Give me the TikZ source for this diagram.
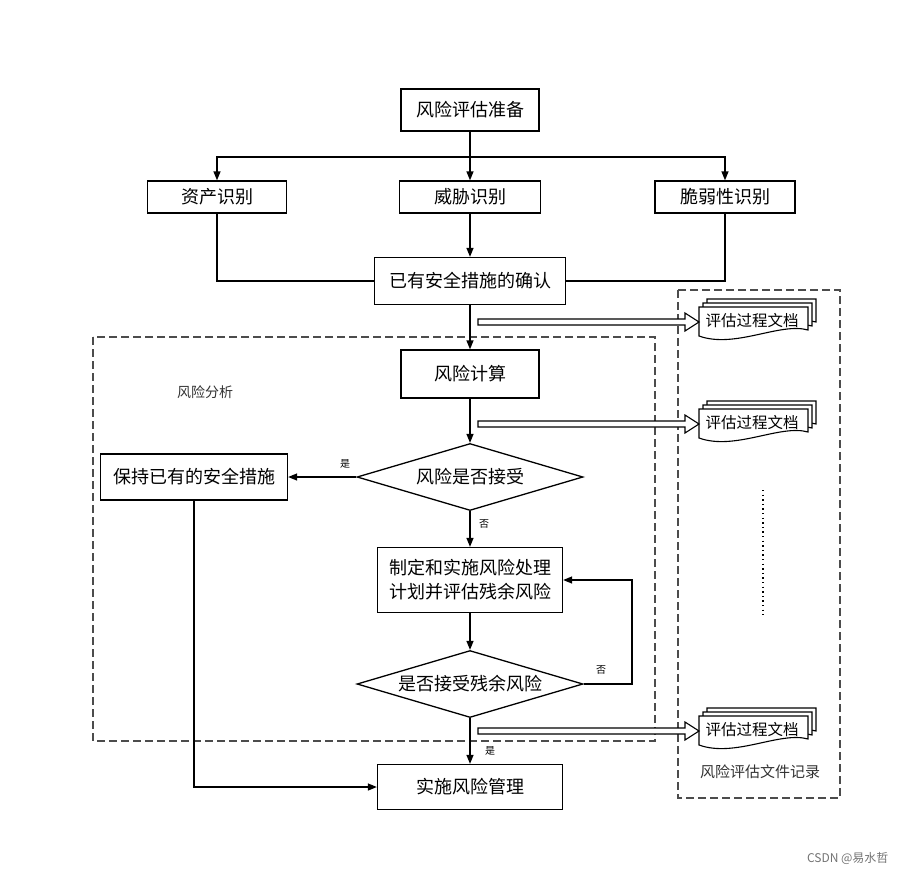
\documentclass[tikz,border=0pt]{standalone}
\usepackage{fontspec}
\setmainfont{Liberation Serif}
\newfontfamily\cjk{Noto Sans CJK SC}
\usetikzlibrary{shapes.geometric,arrows.meta,calc}
\tikzset{
  box/.style={draw, line width=1.3pt, inner sep=0pt, align=center, font=\cjk\fontsize{18}{24}\selectfont},
  dia/.style={diamond, draw, line width=1.3pt, inner sep=0pt, shape aspect=3.4, minimum width=226pt, minimum height=67pt, font=\cjk\fontsize{18}{21}\selectfont},
  line/.style={line width=1.3pt},
  arr/.style={line width=1.3pt, -{Triangle[length=9pt,width=7pt]}},
  lbl/.style={font=\cjk\fontsize{10}{12}\selectfont, inner sep=0pt},
  doctext/.style={font=\cjk\fontsize{15.5}{18}\selectfont, inner sep=0pt},
  dashbox/.style={draw=black!70, line width=1.3pt, dash pattern=on 8pt off 4pt},
  docshape/.style={draw, line width=1.1pt, fill=white},
  hollow/.style={draw, line width=1.1pt, fill=white}
}
\newcommand\docstack[3]{%
  \foreach \o in {8,4,0}{%
    \draw[docshape] (#2-53+\o,#3-14-\o) -- (#2+56+\o,#3-14-\o) -- (#2+56+\o,#3+9-\o)
      .. controls (#2+28+\o,#3+1-\o) and (#2-17+\o,#3+28-\o) .. (#2-53+\o,#3+15-\o) -- cycle;}%
  \node[doctext] (#1) at (#2,#3) {评估过程文档};}
\newcommand\hollowarrow[2]{%
  \path let \p1=(#1), \p2=(#2) in
    node[coordinate] {}
    [hollow] (\x1,\y1+3pt) -- (\x2-14pt,\y1+3pt) -- (\x2-14pt,\y1+9pt) -- (\x2,\y1)
      -- (\x2-14pt,\y1-9pt) -- (\x2-14pt,\y1-3pt) -- (\x1,\y1-3pt) -- cycle;}
\begin{document}
\begin{tikzpicture}[x=1pt,y=-1pt]
\useasboundingbox (0,0) rectangle (905,876);
% dashed frames
\draw[dashbox] (93,337) rectangle (655,741);
\draw[dashbox] (678,290) rectangle (840,798);
\node[font=\cjk\fontsize{14}{16}\selectfont, text=black!80] (ra) at (205,392) {风险分析};
\node[font=\cjk\fontsize{15}{18}\selectfont, text=black!80] (rec) at (760,772) {风险评估文件记录};
% main nodes
\node[box, minimum width=138pt, minimum height=42pt] (prep) at (470,110) {风险评估准备};
\node[box, minimum width=139pt, minimum height=32pt] (asset) at (217,197) {资产识别};
\node[box, minimum width=141pt, minimum height=32pt] (threat) at (470,197) {威胁识别};
\node[box, minimum width=140pt, minimum height=32pt] (vuln) at (725,197) {脆弱性识别};
\node[box, minimum width=191pt, minimum height=47pt] (confirm) at (470,281) {已有安全措施的确认};
\node[box, minimum width=138pt, minimum height=48pt] (calc) at (470,374) {风险计算};
\node[dia] (d1) at (470,477) {风险是否接受};
\node[box, minimum width=187pt, minimum height=46pt] (keep) at (194,477) {保持已有的安全措施};
\node[box, minimum width=185pt, minimum height=65pt] (plan) at (470,580) {制定和实施风险处理\\计划并评估残余风险};
\node[dia] (d2) at (470,684) {是否接受残余风险};
\node[box, minimum width=185pt, minimum height=45pt] (impl) at (470,787) {实施风险管理};
% connectors
\coordinate (split) at (470,157);
\draw[line] (prep.south) -- (split);
\draw[arr] (split) -| (asset.north);
\draw[arr] (split) -- (threat.north);
\draw[arr] (split) -| (vuln.north);
\draw[arr] (threat) -- (confirm);
\draw[line] (asset.south) |- (confirm.west);
\draw[line] (vuln.south) |- (confirm.east);
\draw[arr] (confirm) -- (calc);
\draw[arr] (calc) -- (d1);
\draw[arr] (d1.west) -- (keep.east);
\node[lbl] (yes1) at (345,464) {是};
\draw[arr] (d1.south) -- (plan.north);
\node[lbl] (no1) at (484,524) {否};
\draw[arr] (plan) -- (d2);
\coordinate (loop) at (632,684);
\draw[arr] (d2.east) -- (loop) |- (plan.east);
\node[lbl] (no2) at (601,670) {否};
\draw[arr] (d2.south) -- (impl.north);
\node[lbl] (yes2) at (490,751) {是};
\draw[arr] (keep.south) |- (impl.west);
% document stacks
\docstack{doc1}{752}{321}
\docstack{doc2}{752}{423}
\docstack{doc3}{752}{730}
\coordinate (s1) at (478,322);
\coordinate (s2) at (478,424);
\coordinate (s3) at (478,731);
\coordinate (t1) at (699,322);
\coordinate (t2) at (699,424);
\coordinate (t3) at (699,731);
\hollowarrow{s1}{t1}
\hollowarrow{s2}{t2}
\hollowarrow{s3}{t3}
% vertical dots
\draw[line width=1.4pt, dash pattern=on 1.4pt off 3.2pt] (763,490) -- (763,615);
% watermark
\node[font=\cjk\fontsize{12}{14}\selectfont, text=black!55, anchor=east] (wm) at (892,858) {CSDN @易水哲};
\end{tikzpicture}
\end{document}
